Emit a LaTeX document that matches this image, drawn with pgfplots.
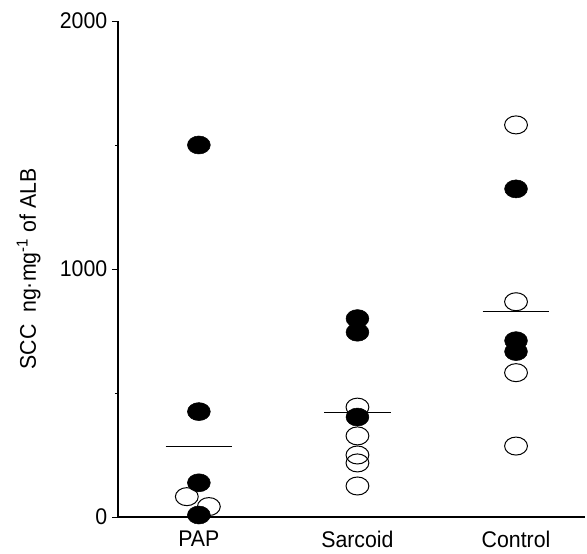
\documentclass[border=0pt]{standalone}
\usepackage{fontspec}
\setmainfont{Liberation Sans}[FakeStretch=0.94]
\usepackage{pgfplots}
\pgfplotsset{compat=1.18}
\newcommand{\bigf}{\fontsize{17pt}{20pt}\selectfont}
\begin{document}
\begin{tikzpicture}[font=\bigf]
\begin{axis}[
  scale only axis, width=350.25pt, height=372pt,
  xmin=0.49, xmax=3.435, ymin=0, ymax=2000,
  axis x line*=bottom, axis y line*=left,
  axis line style={-, line width=0.8pt},
  xtick={1,2,3}, xticklabels={PAP,Sarcoid,Control},
  x tick style={draw=none},
  xticklabel style={yshift=-2.5pt},
  ytick={0,1000,2000}, minor ytick={500,1500},
  tick align=outside, major tick length=4.5pt, minor tick length=2.25pt,
  y tick style={line width=0.6pt, black},
  /pgf/number format/assume math mode=true,
  /pgf/number format/1000 sep={},
  tick label style={font=\bigf},
  label style={font=\bigf},
  ylabel={SCC\ \ ng·mg\textsuperscript{-1} of ALB},
  ylabel style={at={([xshift=-61.5pt]axis description cs:0,0.5)}, anchor=base},
  clip=false,
]
% open circles
\addplot[only marks, mark=o, mark size=6.75pt, mark options={xscale=1.27, draw=black, line width=0.75pt}]
 coordinates {(0.924,82) (1.063,42) (2,443) (2,327) (2,250) (2,218) (2,125) (3,1581) (3,868) (3,582) (3,286)};
% filled circles
\addplot[only marks, mark=*, mark size=6.75pt, mark options={xscale=1.27, fill=black, draw=black}]
 coordinates {(1,1500) (1,425) (1,138) (1,8) (2,800) (2,745) (2,403) (3,1323) (3,711) (3,667)};
% means
\addplot[black, line width=0.8pt] coordinates {(0.79,283) (1.21,283)};
\addplot[black, line width=0.8pt] coordinates {(1.79,420) (2.21,420)};
\addplot[black, line width=0.8pt] coordinates {(2.79,827) (3.21,827)};
\end{axis}
\pgfresetboundingbox
\path ([shift={(-88.5pt,-27.75pt)}]current axis.south west) rectangle ([shift={(1.5pt,15.75pt)}]current axis.north east);
\end{tikzpicture}
\end{document}
